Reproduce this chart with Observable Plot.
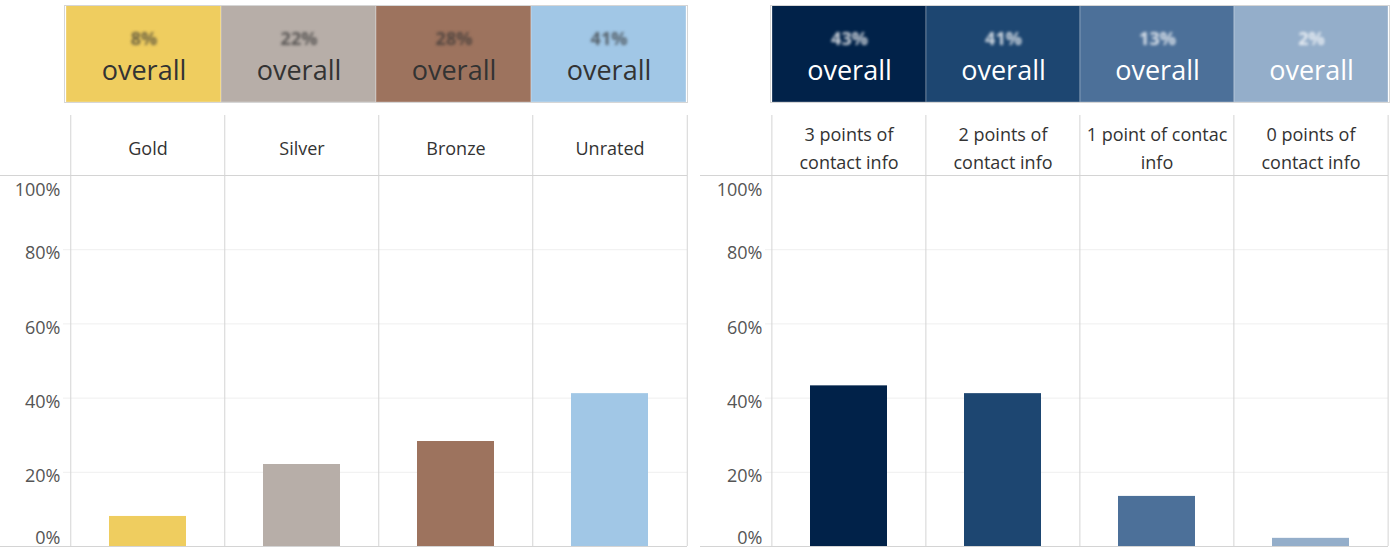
<!DOCTYPE html>
<html><head><meta charset="utf-8">
<script src="https://cdn.jsdelivr.net/npm/d3@7"></script>
<script src="https://cdn.jsdelivr.net/npm/@observablehq/plot@0.6"></script>
<style>
body{margin:0;background:#fff;}
#root{position:relative;width:1395px;height:548px;overflow:hidden;font-family:"Open Sans",sans-serif;}
#root svg{position:absolute;overflow:visible;}
g[aria-description="blurred"] text{filter:blur(1.8px);}
</style></head><body><div id="root"></div>
<script>
// ---- data ----
const ratingCats = ["Gold", "Silver", "Bronze", "Unrated"];
const ratingShares = [0.081, 0.221, 0.283, 0.412];
const ratingOverall = ["8%", "22%", "28%", "41%"];
const ratingColors = ["#EFCD5F", "#B7AEA8", "#9D735E", "#A1C7E6"];
const ratingLabels = ["Gold", "Silver", "Bronze", "Unrated"];

const contactCats = ["3 points of contact info", "2 points of contact info", "1 point of contact info", "0 points of contact info"];
const contactShares = [0.433, 0.412, 0.135, 0.022];
const contactOverall = ["43%", "41%", "13%", "2%"];
const contactColors = ["#012249", "#1D4671", "#4C7099", "#94AECA"];
const contactLabels = ["3 points of\ncontact info", "2 points of\ncontact info", "1 point of contac\ninfo", "0 points of\ncontact info"];

const yTicks = [0, 0.2, 0.4, 0.6, 0.8, 1];
const yTickLabels = ["0%", "20%", "40%", "60%", "80%", "100%"];

const FONT = "Open Sans";
const root = document.getElementById("root");

function panel(cfg) {
  const {left, width, plotL, plotR, boxL, boxR, cats, shares, overall, colors, labels, headText, blurText, blurOpacity} = cfg;
  const rows = cats.map((c, i) => ({cat: c, share: shares[i], overall: overall[i], label: labels[i]}));
  const yRows = yTicks.map((v, i) => ({v, label: yTickLabels[i]}));
  const step = (plotR - plotL) / cats.length;

  const header = Plot.plot({
    width, height: 110,
    marginLeft: boxL, marginRight: width - boxR, marginTop: 5, marginBottom: 8,
    x: {type: "band", domain: cats, padding: 0, axis: null},
    color: {domain: cats, range: colors},
    style: {background: "transparent", fontFamily: FONT},
    marks: [
      Plot.cell(rows, {x: "cat", fill: "cat", inset: 0, stroke: "#ffffff", strokeOpacity: 0.3}),
      Plot.frame({stroke: "#d6d6d6"}),
      Plot.text(rows, {x: "cat", text: "overall", frameAnchor: "middle", dy: -15, fontSize: 18, fontWeight: "bold", fill: blurText, fillOpacity: blurOpacity, ariaDescription: "blurred"}),
      Plot.text(rows, {x: "cat", text: () => "overall", frameAnchor: "middle", dy: 17, fontSize: 27, fill: headText})
    ]
  });

  const main = Plot.plot({
    width, height: 438,
    marginLeft: 0, marginRight: width - plotR, marginTop: 5, marginBottom: 2,
    x: {type: "band", domain: cats, range: [plotL, plotR], paddingInner: 0.5, paddingOuter: 0.25, axis: null},
    y: {domain: [0, 1], range: [436, 65], axis: null},
    color: {domain: cats, range: colors},
    style: {background: "transparent", fontFamily: FONT},
    marks: [
      Plot.ruleY(yTicks.slice(1, -1), {stroke: "#efefef", insetLeft: plotL - 6}),
      Plot.ruleX(cats, {x: d => d, dx: -step / 2, stroke: "#d4d4d4"}),
      Plot.ruleX([cats[cats.length - 1]], {x: d => d, dx: step / 2, stroke: "#d4d4d4"}),
      Plot.ruleY([1], {stroke: "#d4d4d4"}),
      Plot.barY(rows, {x: "cat", y: "share", fill: "cat"}),
      Plot.ruleY([0], {stroke: "#d4d4d4"}),
      Plot.text(rows, {x: "cat", text: "label", frameAnchor: "top", lineAnchor: "middle", dy: 31, fontSize: 18, lineHeight: 1.55, fill: "#333"}),
      Plot.text(yRows.slice(1, -1), {y: "v", text: "label", frameAnchor: "left", dx: plotL - 9, dy: 4, textAnchor: "end", fontSize: 18, fill: "#555"}),
      Plot.text(yRows.slice(-1), {y: "v", text: "label", frameAnchor: "left", dx: plotL - 9, dy: 15, textAnchor: "end", fontSize: 18, fill: "#555"}),
      Plot.text(yRows.slice(0, 1), {y: "v", text: "label", frameAnchor: "left", dx: plotL - 9, dy: -8, textAnchor: "end", fontSize: 18, fill: "#555"})
    ]
  });

  header.style.left = left + "px"; header.style.top = "0px";
  main.style.left = left + "px"; main.style.top = "110px";
  root.append(header, main);
}

panel({left: 0, width: 700, plotL: 69, plotR: 687, boxL: 64, boxR: 687,
  cats: ratingCats, shares: ratingShares, overall: ratingOverall, colors: ratingColors, labels: ratingLabels,
  headText: "#333", blurText: "#333", blurOpacity: 0.7});
panel({left: 700, width: 695, plotL: 71, plotR: 688, boxL: 70, boxR: 689,
  cats: contactCats, shares: contactShares, overall: contactOverall, colors: contactColors, labels: contactLabels,
  headText: "#ffffff", blurText: "#ffffff", blurOpacity: 0.8});
</script>
</body></html>
